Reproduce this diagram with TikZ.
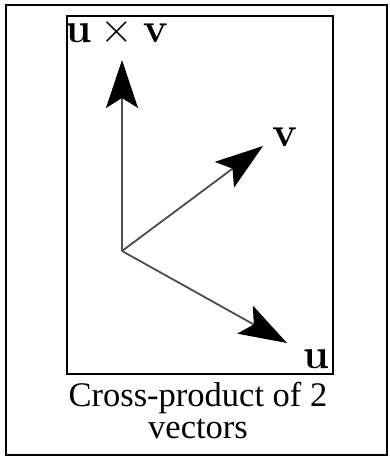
\documentclass[tikz,border=0pt]{standalone}
\usepackage{fix-cm}
\usepackage{amsmath}
\usepackage[no-math]{fontspec}
\setmainfont{Liberation Serif}
\usetikzlibrary{arrows.meta}
\tikzset{
  outerframe/.style={draw=black, line width=1.8pt},
  innerframe/.style={draw=black, line width=2.6pt},
  vecarrow/.style={-{Stealth[length=48pt, width=32pt, inset=10pt, black]}, line width=1.8pt, black!70},
  veclabel/.style={inner sep=0pt, font=\fontsize{42}{42}\selectfont},
  caption/.style={align=center, inner sep=0pt, font=\fontsize{34.5}{32}\selectfont}
}
\begin{document}
\begin{tikzpicture}[x=1pt, y=-1pt]
  \useasboundingbox (0,0) rectangle (389,460);
  % frames
  \draw[outerframe] (6,5) rectangle (387,455);
  \draw[innerframe] (67,16) rectangle (333,374);
  % vectors
  \coordinate (o)    at (122,251);
  \coordinate (uxvtip) at (122,60);
  \coordinate (vtip) at (263,146);
  \coordinate (utip) at (287,343);
  \draw[vecarrow] (o) -- (uxvtip);
  \draw[vecarrow] (o) -- (vtip);
  \draw[vecarrow] (o) -- (utip);
  % labels
  \node[veclabel] (uxv) at (117,32)  {$\mathbf{u}\times\mathbf{v}$};
  \node[veclabel] (v)   at (285,137) {$\mathbf{v}$};
  \node[veclabel] (u)   at (316,359) {$\mathbf{u}$};
  \node[caption]  (cap) at (198,411) {Cross-product of 2\\vectors};
\end{tikzpicture}
\end{document}
